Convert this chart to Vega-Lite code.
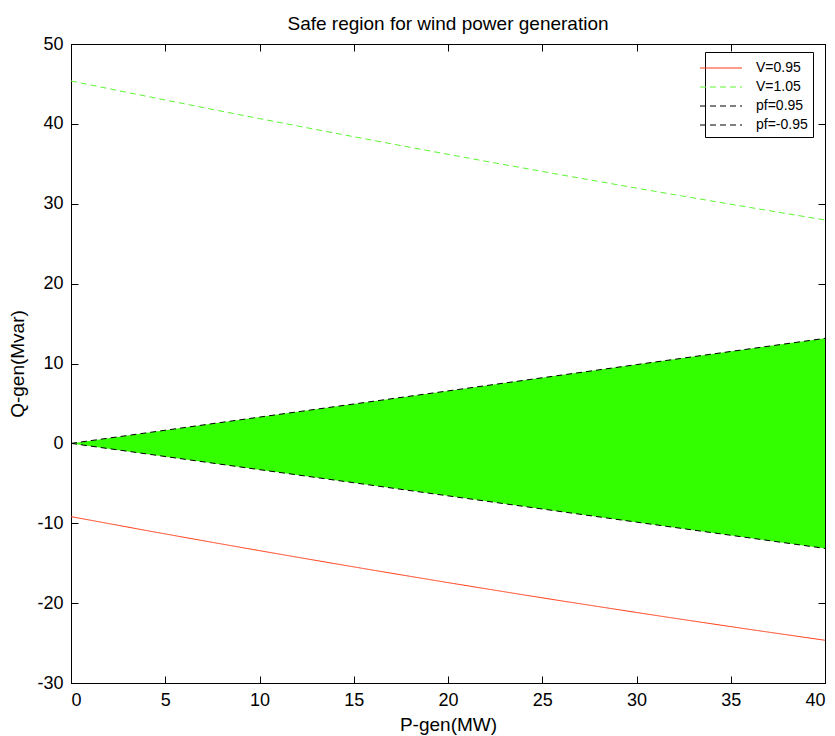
{
  "$schema": "https://vega.github.io/schema/vega-lite/v6.json",
  "width": 754,
  "height": 639,
  "autosize": {"type": "none"},
  "padding": {"left": 71, "top": 44, "right": 10, "bottom": 53},
  "background": "white",
  "title": {
    "text": "Safe region for wind power generation",
    "font": "Liberation Sans",
    "fontSize": 19,
    "fontWeight": "normal",
    "color": "black",
    "anchor": "middle",
    "baseline": "alphabetic",
    "offset": -14
  },
  "config": {
    "view": {"stroke": "black", "strokeWidth": 1},
    "axis": {
      "grid": false,
      "domainColor": "black",
      "domainWidth": 1,
      "tickColor": "black",
      "tickWidth": 1,
      "tickSize": -7,
      "labelFont": "Liberation Sans",
      "labelFontSize": 18,
      "labelColor": "black",
      "titleFont": "Liberation Sans",
      "titleFontSize": 19,
      "titleFontWeight": "normal",
      "titleColor": "black"
    }
  },
  "datasets": {
    "region": [
      {"P": 0, "Qlo": 0, "Qhi": 0},
      {"P": 10, "Qlo": -3.29, "Qhi": 3.29},
      {"P": 20, "Qlo": -6.57, "Qhi": 6.57},
      {"P": 30, "Qlo": -9.86, "Qhi": 9.86},
      {"P": 40, "Qlo": -13.15, "Qhi": 13.15}
    ],
    "curves": [
      {"series": "V=0.95", "P": 0, "Q": -9.17},
      {"series": "V=0.95", "P": 2, "Q": -10.04},
      {"series": "V=0.95", "P": 4, "Q": -10.91},
      {"series": "V=0.95", "P": 6, "Q": -11.76},
      {"series": "V=0.95", "P": 8, "Q": -12.6},
      {"series": "V=0.95", "P": 10, "Q": -13.43},
      {"series": "V=0.95", "P": 12, "Q": -14.25},
      {"series": "V=0.95", "P": 14, "Q": -15.06},
      {"series": "V=0.95", "P": 16, "Q": -15.86},
      {"series": "V=0.95", "P": 18, "Q": -16.65},
      {"series": "V=0.95", "P": 20, "Q": -17.43},
      {"series": "V=0.95", "P": 22, "Q": -18.2},
      {"series": "V=0.95", "P": 24, "Q": -18.96},
      {"series": "V=0.95", "P": 26, "Q": -19.71},
      {"series": "V=0.95", "P": 28, "Q": -20.44},
      {"series": "V=0.95", "P": 30, "Q": -21.17},
      {"series": "V=0.95", "P": 32, "Q": -21.89},
      {"series": "V=0.95", "P": 34, "Q": -22.59},
      {"series": "V=0.95", "P": 36, "Q": -23.29},
      {"series": "V=0.95", "P": 38, "Q": -23.97},
      {"series": "V=0.95", "P": 40, "Q": -24.65},
      {"series": "V=1.05", "P": 0, "Q": 45.37},
      {"series": "V=1.05", "P": 2, "Q": 44.41},
      {"series": "V=1.05", "P": 4, "Q": 43.46},
      {"series": "V=1.05", "P": 6, "Q": 42.52},
      {"series": "V=1.05", "P": 8, "Q": 41.58},
      {"series": "V=1.05", "P": 10, "Q": 40.66},
      {"series": "V=1.05", "P": 12, "Q": 39.75},
      {"series": "V=1.05", "P": 14, "Q": 38.84},
      {"series": "V=1.05", "P": 16, "Q": 37.95},
      {"series": "V=1.05", "P": 18, "Q": 37.06},
      {"series": "V=1.05", "P": 20, "Q": 36.19},
      {"series": "V=1.05", "P": 22, "Q": 35.32},
      {"series": "V=1.05", "P": 24, "Q": 34.47},
      {"series": "V=1.05", "P": 26, "Q": 33.62},
      {"series": "V=1.05", "P": 28, "Q": 32.79},
      {"series": "V=1.05", "P": 30, "Q": 31.96},
      {"series": "V=1.05", "P": 32, "Q": 31.14},
      {"series": "V=1.05", "P": 34, "Q": 30.34},
      {"series": "V=1.05", "P": 36, "Q": 29.54},
      {"series": "V=1.05", "P": 38, "Q": 28.75},
      {"series": "V=1.05", "P": 40, "Q": 27.97},
      {"series": "pf=0.95", "P": 0, "Q": 0},
      {"series": "pf=0.95", "P": 10, "Q": 3.29},
      {"series": "pf=0.95", "P": 20, "Q": 6.57},
      {"series": "pf=0.95", "P": 30, "Q": 9.86},
      {"series": "pf=0.95", "P": 40, "Q": 13.15},
      {"series": "pf=-0.95", "P": 0, "Q": 0},
      {"series": "pf=-0.95", "P": 10, "Q": -3.29},
      {"series": "pf=-0.95", "P": 20, "Q": -6.57},
      {"series": "pf=-0.95", "P": 30, "Q": -9.86},
      {"series": "pf=-0.95", "P": 40, "Q": -13.15}
    ]
  },
  "layer": [
    {
      "data": {"name": "region"},
      "mark": {"type": "area", "color": "#33ff00", "opacity": 1},
      "encoding": {
        "x": {
          "field": "P",
          "type": "quantitative",
          "scale": {"domain": [0, 40], "nice": false},
          "axis": {
            "orient": "bottom",
            "values": [0, 5, 10, 15, 20, 25, 30, 35, 40],
            "title": "P-gen(MW)",
            "labelPadding": 15,
            "titlePadding": 6
          }
        },
        "y": {
          "field": "Qhi",
          "type": "quantitative",
          "scale": {"domain": [-30, 50], "nice": false},
          "axis": {
            "orient": "left",
            "values": [-30, -20, -10, 0, 10, 20, 30, 40, 50],
            "labelExpr": "datum.value < 0 ? '-' + abs(datum.value) : '' + datum.value",
            "title": "Q-gen(Mvar)",
            "labelPadding": 15,
            "titlePadding": 9
          }
        },
        "y2": {"field": "Qlo"}
      }
    },
    {
      "data": {"name": "curves"},
      "mark": {"type": "line", "strokeWidth": 1},
      "encoding": {
        "x": {
          "field": "P",
          "type": "quantitative",
          "scale": {"domain": [0, 40], "nice": false},
          "axis": {
            "orient": "top",
            "values": [0, 5, 10, 15, 20, 25, 30, 35, 40],
            "labels": false,
            "title": null
          }
        },
        "y": {
          "field": "Q",
          "type": "quantitative",
          "scale": {"domain": [-30, 50], "nice": false},
          "axis": {
            "orient": "right",
            "values": [-30, -20, -10, 0, 10, 20, 30, 40, 50],
            "labels": false,
            "title": null
          }
        },
        "color": {
          "field": "series",
          "type": "nominal",
          "scale": {
            "domain": ["V=0.95", "V=1.05", "pf=0.95", "pf=-0.95"],
            "range": ["#ff3a14", "#5cf532", "#000000", "#000000"]
          },
          "legend": {
            "orient": "none",
            "legendX": 634,
            "legendY": 8,
            "title": null,
            "strokeColor": "black",
            "fillColor": "white",
            "cornerRadius": 0,
            "padding": 5,
            "rowPadding": 1,
            "labelFont": "Liberation Sans",
            "labelFontSize": 14,
            "labelColor": "black",
            "labelOffset": 24,
            "symbolType": "M-2,0H2",
            "symbolSize": 441,
            "symbolStrokeWidth": 1
          }
        },
        "strokeDash": {
          "field": "series",
          "type": "nominal",
          "scale": {
            "domain": ["V=0.95", "V=1.05", "pf=0.95", "pf=-0.95"],
            "range": [[1, 0], [6, 4], [6, 4], [6, 4]]
          },
          "legend": {
            "orient": "none",
            "legendX": 634,
            "legendY": 8,
            "title": null,
            "strokeColor": "black",
            "fillColor": "white",
            "cornerRadius": 0,
            "padding": 5,
            "rowPadding": 1,
            "labelFont": "Liberation Sans",
            "labelFontSize": 14,
            "labelColor": "black",
            "labelOffset": 24,
            "symbolType": "M-2,0H2",
            "symbolSize": 441,
            "symbolStrokeWidth": 1
          }
        }
      }
    }
  ],
  "resolve": {"axis": {"x": "independent", "y": "independent"}}
}
